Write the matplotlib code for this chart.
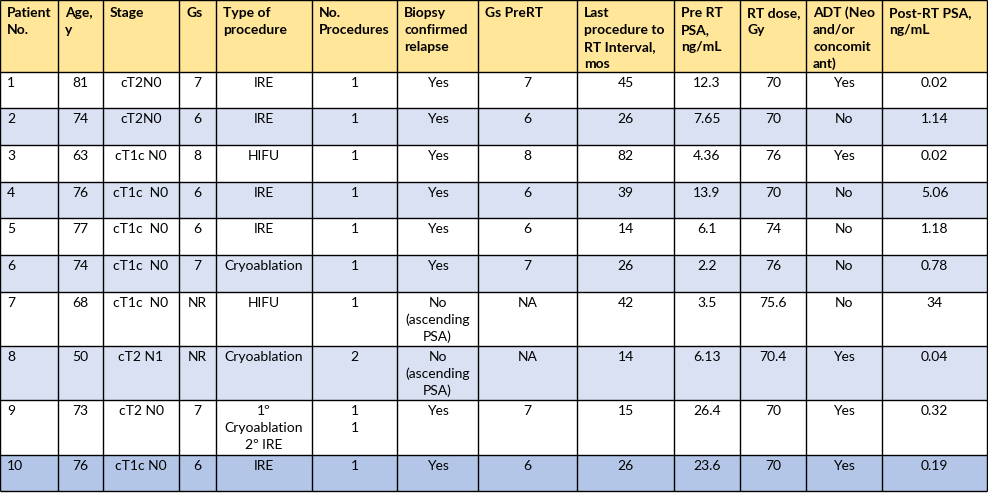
import matplotlib
matplotlib.use("Agg")
import matplotlib.pyplot as plt

plt.rcParams['font.family'] = ['Lato', 'DejaVu Sans']

headers = ['Patient\nNo.', 'Age,\ny', 'Stage', 'Gs', 'Type of\nprocedure', 'No.\nProcedures',
           'Biopsy\nconfirmed\nrelapse', 'Gs PreRT', 'Last\nprocedure to\nRT Interval,\nmos',
           'Pre RT\nPSA,\nng/mL', 'RT dose,\nGy', 'ADT (Neo\nand/or\nconcomit\nant)',
           'Post-RT PSA,\nng/mL']

patient = ['1', '2', '3', '4', '5', '6', '7', '8', '9', '10']
age = ['81', '74', '63', '76', '77', '74', '68', '50', '73', '76']
stage = ['cT2N0', 'cT2N0', 'cT1c N0', 'cT1c  N0', 'cT1c  N0', 'cT1c  N0', 'cT1c  N0',
         'cT2 N1', 'cT2 N0', 'cT1c N0']
gs = ['7', '6', '8', '6', '6', '7', 'NR', 'NR', '7', '6']
procedure = ['IRE', 'IRE', 'HIFU', 'IRE', 'IRE', 'Cryoablation', 'HIFU', 'Cryoablation',
             '1º\nCryoablation\n2º IRE', 'IRE']
n_procedures = ['1', '1', '1', '1', '1', '1', '1', '2', '1\n1', '1']
biopsy = ['Yes', 'Yes', 'Yes', 'Yes', 'Yes', 'Yes', 'No\n(ascending\nPSA)',
          'No\n(ascending\nPSA)', 'Yes', 'Yes']
gs_prert = ['7', '6', '8', '6', '6', '7', 'NA', 'NA', '7', '6']
interval = ['45', '26', '82', '39', '14', '26', '42', '14', '15', '26']
pre_psa = ['12.3', '7.65', '4.36', '13.9', '6.1', '2.2', '3.5', '6.13', '26.4', '23.6']
rt_dose = ['70', '70', '76', '70', '74', '76', '75.6', '70.4', '70', '70']
adt = ['Yes', 'No', 'Yes', 'No', 'No', 'No', 'No', 'Yes', 'Yes', 'Yes']
post_psa = ['0.02', '1.14', '0.02', '5.06', '1.18', '0.78', '34', '0.04', '0.32', '0.19']

columns = [patient, age, stage, gs, procedure, n_procedures, biopsy, gs_prert,
           interval, pre_psa, rt_dose, adt, post_psa]

# layout in pixels
col_edges = [0, 58, 103, 179, 216, 312, 397, 478, 577, 674, 740, 806, 882, 987]
row_edges = [0, 72, 108, 145, 182, 218, 255, 292, 346, 400, 455, 491]
row_colors = ['#FFE699', 'white', '#D9E1F2', 'white', '#D9E1F2', 'white', '#D9E1F2',
              'white', '#D9E1F2', 'white', '#B4C6E7']
line_step = 17

fig = plt.figure(figsize=(9.88, 4.94), dpi=100)
ax = fig.add_axes([0, 0, 1, 1])
ax.set_xlim(0, 988)
ax.set_ylim(494, 0)
ax.axis('off')

# row backgrounds
for i, c in enumerate(row_colors):
    ax.barh((row_edges[i] + row_edges[i + 1]) / 2, col_edges[-1],
            height=row_edges[i + 1] - row_edges[i], left=0, color=c, linewidth=0)

# grid
ax.hlines(row_edges, col_edges[0], col_edges[-1], color='black', lw=1.0)
ax.vlines(col_edges, row_edges[0], row_edges[-1], color='black', lw=1.0)

# header
for j, h in enumerate(headers):
    for k, line in enumerate(h.split('\n')):
        ax.text(col_edges[j] + 7, 17 + k * line_step, line, fontsize=10,
                fontweight='bold', ha='left', va='baseline', color='black')

# body
for j, col in enumerate(columns):
    for i, val in enumerate(col):
        top = row_edges[i + 1]
        for k, line in enumerate(val.split('\n')):
            y = top + 15 + k * line_step
            if j == 0:
                ax.text(col_edges[j] + 7, y, line, fontsize=10, ha='left', va='baseline')
            else:
                ax.text((col_edges[j] + col_edges[j + 1]) / 2, y, line, fontsize=10,
                        ha='center', va='baseline')

fig.savefig('out.png', dpi=100)
